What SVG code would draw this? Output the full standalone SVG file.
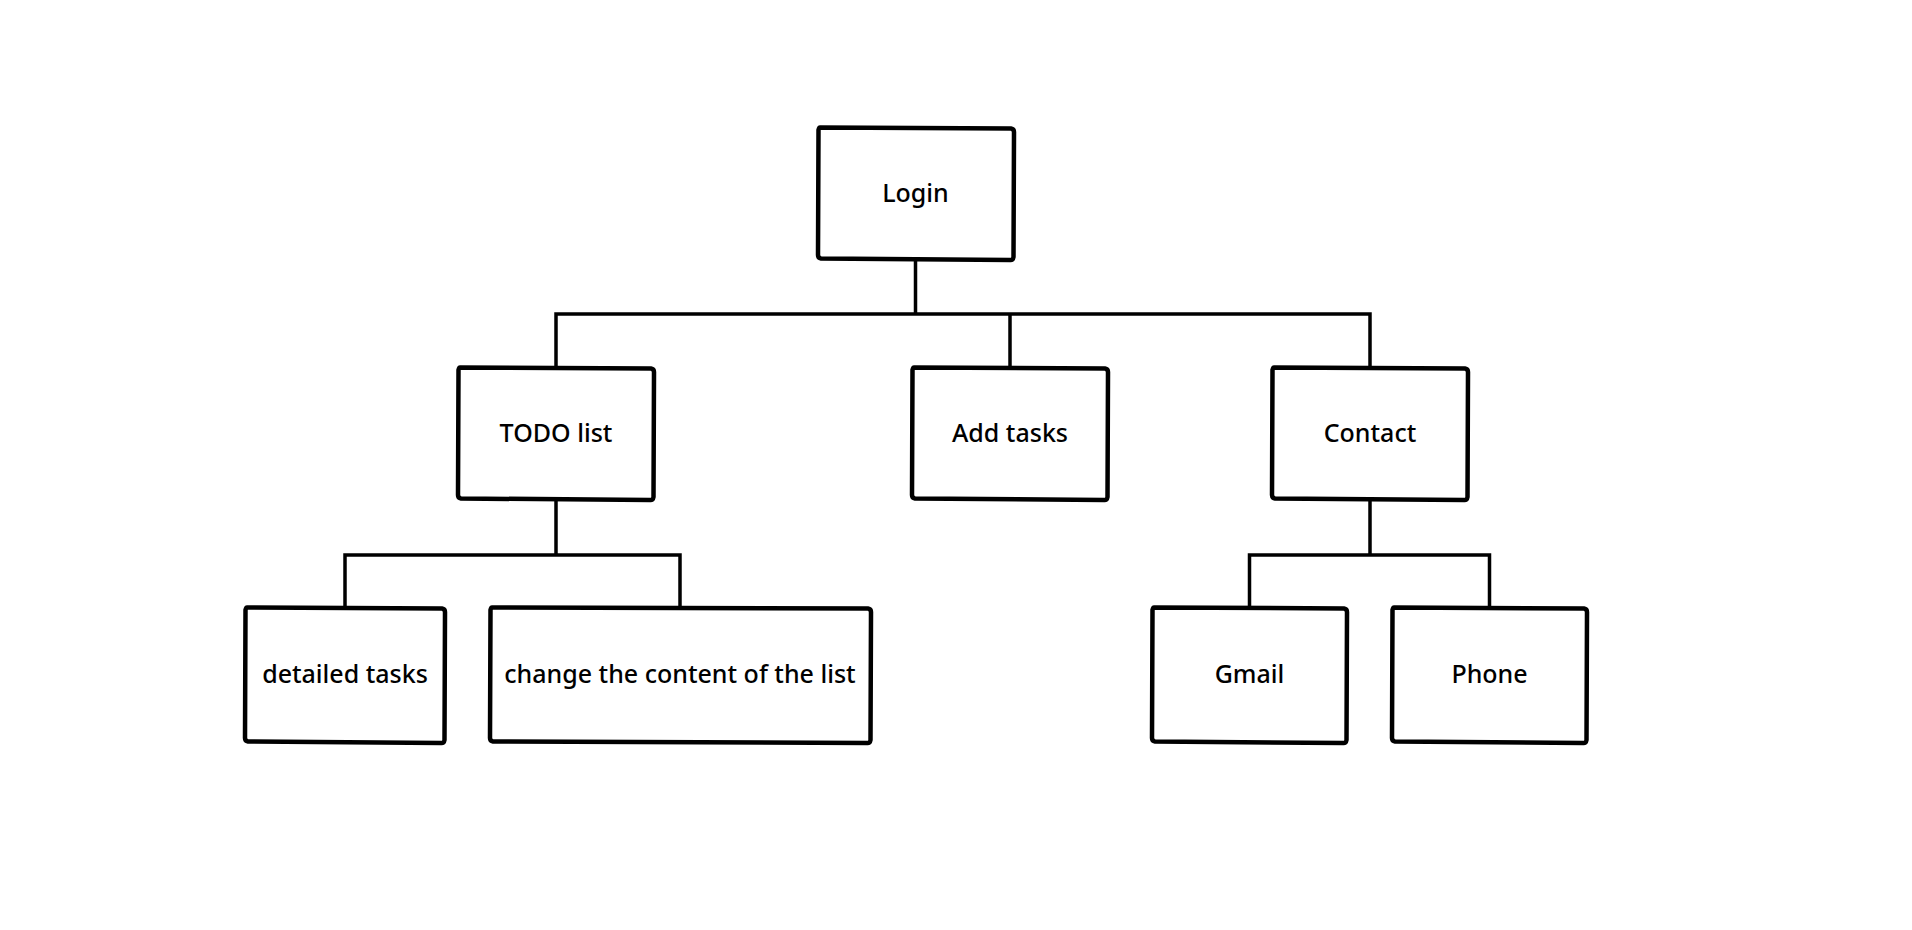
<svg xmlns="http://www.w3.org/2000/svg" width="1912" height="930" viewBox="0 0 1912 930">
<style>
.bg{fill:#ffffff}
.box{fill:#ffffff;stroke:#000000;stroke-width:4.5;stroke-linejoin:round;stroke-linecap:round}
.lbl{font-family:"Noto Sans","Liberation Sans",sans-serif;font-size:25px;font-weight:500;fill:#000000;text-anchor:middle}
.conn{fill:none;stroke:#000000;stroke-width:3.5;stroke-linejoin:miter;stroke-linecap:square}
</style>
<rect class="bg" x="0" y="0" width="1912" height="930"/>
<g id="connectors">
<path class="conn" d="M915.5 261 V314 M556 367 V314 H1370 V367 M1010 314 V367"/>
<path class="conn" d="M556 501 V555 M345 607 V555 H680 V607"/>
<path class="conn" d="M1370 501 V555 M1249.5 607 V555 H1489.5 V607"/>
</g>
<g id="login">
<path class="box" d="M820 127.5 L1011 128.5 Q1014 129 1014 132 L1013.5 257 Q1013 260.5 1010 260 L821 258.5 Q818 258 818 255 L818.5 130 Q819 127.5 820 127.5 Z"/>
<text class="lbl" x="915.5" y="202">Login</text>
</g>
<g id="todo">
<path class="box" d="M460 367.5 L651 368.5 Q654 369 654 372 L653.5 497 Q653 500.5 650 500 L461 498.5 Q458 498 458 495 L458.5 370 Q459 367.5 460 367.5 Z"/>
<text class="lbl" x="556" y="442">TODO list</text>
</g>
<g id="addtasks">
<path class="box" d="M914 367.5 L1105 368.5 Q1108 369 1108 372 L1107.5 497 Q1107 500.5 1104 500 L915 498.5 Q912 498 912 495 L912.5 370 Q913 367.5 914 367.5 Z"/>
<text class="lbl" x="1010" y="442">Add tasks</text>
</g>
<g id="contact">
<path class="box" d="M1274 367.5 L1465 368.5 Q1468 369 1468 372 L1467.5 497 Q1467 500.5 1464 500 L1275 498.5 Q1272 498 1272 495 L1272.5 370 Q1273 367.5 1274 367.5 Z"/>
<text class="lbl" x="1370" y="442">Contact</text>
</g>
<g id="detailed">
<path class="box" d="M247 607.5 L442 608.5 Q445 609 445 612 L444.5 740 Q444 743.5 441 743 L248 741.5 Q245 741 245 738 L245.5 610 Q246 607.5 247 607.5 Z"/>
<text class="lbl" x="345" y="683">detailed tasks</text>
</g>
<g id="change">
<path class="box" d="M492 607.5 L868 608.5 Q871 609 871 612 L870.5 740 Q870 743.5 867 743 L493 741.5 Q490 741 490 738 L490.5 610 Q491 607.5 492 607.5 Z"/>
<text class="lbl" x="680" y="683">change the content of the list</text>
</g>
<g id="gmail">
<path class="box" d="M1154 607.5 L1344 608.5 Q1347 609 1347 612 L1346.5 740 Q1346 743.5 1343 743 L1155 741.5 Q1152 741 1152 738 L1152.5 610 Q1153 607.5 1154 607.5 Z"/>
<text class="lbl" x="1249.5" y="683">Gmail</text>
</g>
<g id="phone">
<path class="box" d="M1394 607.5 L1584 608.5 Q1587 609 1587 612 L1586.5 740 Q1586 743.5 1583 743 L1395 741.5 Q1392 741 1392 738 L1392.5 610 Q1393 607.5 1394 607.5 Z"/>
<text class="lbl" x="1489.5" y="683">Phone</text>
</g>
</svg>
